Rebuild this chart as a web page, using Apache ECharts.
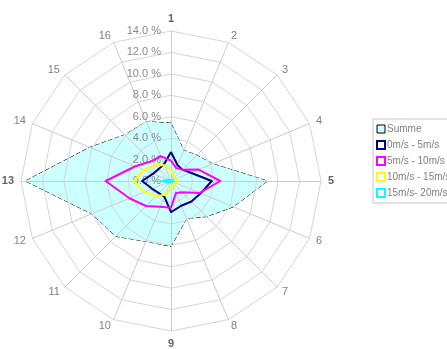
<!DOCTYPE html>
<html>
<head>
<meta charset="utf-8">
<script src="https://cdn.jsdelivr.net/npm/echarts@6/dist/echarts.min.js"></script>
<style>
  html, body { margin: 0; padding: 0; background: #fff; }
  #chart { width: 447px; height: 349px; }
</style>
</head>
<body>
<div id="chart"></div>
<script>
// Wind directions 1..16, clockwise from north
const directions = ['1','2','3','4','5','6','7','8','9','10','11','12','13','14','15','16'];
const tickMax = 14;
const tickStep = 2;

// Frequency (%) per direction
const seriesNames = ['Summe', '0m/s - 5m/s', '5m/s - 10m/s', '10m/s - 15m/s', '15m/s- 20m/s'];
const summe   = [5.4, 3.1, 3.4, 4.2, 9.0, 6.3, 4.7, 3.8, 6.1, 6.1, 7.3, 8.0, 13.6, 8.2, 6.1, 6.0];
const v0to5   = [2.7, 1.6, 1.5, 2.0, 3.8, 3.0, 2.7, 2.5, 2.9, 1.6, 1.6, 1.9, 2.7, 1.8, 1.6, 1.7];
const v5to10  = [1.9, 1.3, 1.5, 2.8, 4.6, 2.9, 1.5, 1.2, 2.5, 2.6, 3.3, 4.2, 6.1, 3.6, 2.6, 2.5];
const v10to15 = [1.0, 0.6, 0.5, 0.5, 0.6, 0.5, 0.4, 0.4, 0.6, 1.4, 2.0, 2.7, 3.5, 2.7, 2.1, 1.6];
const v15to20 = [0.1, 0.1, 0.1, 0.1, 0.2, 0.1, 0.1, 0.1, 0.1, 0.1, 0.1, 0.3, 0.8, 0.3, 0.1, 0.1];

const colors = ['#000000', '#000080', '#ff00ff', '#ffff00', '#00ffff'];

// The radar lays indicators out counter-clockwise; reorder so directions run clockwise
const order = [0].concat(directions.slice(1).map((d, i) => directions.length - 1 - i));
const reorder = arr => order.map(i => arr[i]);

const strong = { '1': 1, '5': 1, '9': 1, '13': 1 };
const indicator = order.map((i, k) => {
  const ind = { name: directions[i], min: 0, max: tickMax };
  if (k === 0) {
    ind.axisLabel = {
      show: true,
      color: '#8a8a8a',
      fontSize: 11,
      fontFamily: 'Liberation Sans',
      margin: 10,
      formatter: v => v.toFixed(1) + ' %'
    };
  }
  return ind;
});

const values = [summe, v0to5, v5to10, v10to15, v15to20];
const makeItem = s => {
  const item = {
    name: seriesNames[s],
    value: reorder(values[s]),
    symbol: 'none',
    lineStyle: s === 0
      ? { color: '#000', width: 1, type: [5, 2] }
      : { color: colors[s], width: 2 }
  };
  if (s === 0) item.areaStyle = { color: '#ccffff', opacity: 1 };
  return item;
};

const chart = echarts.init(document.getElementById('chart'), null, { renderer: 'canvas' });
chart.setOption({
  animation: false,
  backgroundColor: '#ffffff',
  legend: {
    orient: 'vertical',
    left: 373,
    top: 119,
    itemWidth: 8,
    itemHeight: 8,
    itemGap: 6,
    padding: [5, 30, 5, 3],
    borderColor: '#c8c8c8',
    borderWidth: 1,
    textStyle: { color: '#808080', fontSize: 10, fontFamily: 'Liberation Sans', padding: [0, 0, 0, -3] },
    data: seriesNames.map((n, s) => ({
      name: n,
      icon: 'rect',
      itemStyle: s === 0
        ? { color: '#ccffff', borderColor: '#000', borderWidth: 1 }
        : { color: '#ffffff', borderColor: colors[s], borderWidth: 2 }
    }))
  },
  radar: {
    z: 2,
    center: [171, 181],
    radius: 150,
    startAngle: 90,
    splitNumber: tickMax / tickStep,
    shape: 'polygon',
    indicator: indicator,
    nameGap: 7,
    axisName: {
      color: '#808080',
      fontSize: 11,
      fontFamily: 'Liberation Sans',
      formatter: n => strong[n] ? '{b|' + n + '}' : n,
      rich: { b: { color: '#666', fontWeight: 'bold', fontSize: 11, fontFamily: 'Liberation Sans' } }
    },
    splitLine: { lineStyle: { color: '#d6d6d6', width: 1 } },
    splitArea: { show: false },
    axisLine: { lineStyle: { color: '#cccccc', width: 1 } },
    axisTick: { show: false },
    axisLabel: { show: false }
  },
  series: [
    // Total area sits beneath the grid, the speed classes above it
    { type: 'radar', z: 1, symbol: 'none', data: [makeItem(0)] },
    { type: 'radar', z: 3, symbol: 'none', data: [1, 2, 3, 4].map(makeItem) }
  ]
});
</script>
</body>
</html>
